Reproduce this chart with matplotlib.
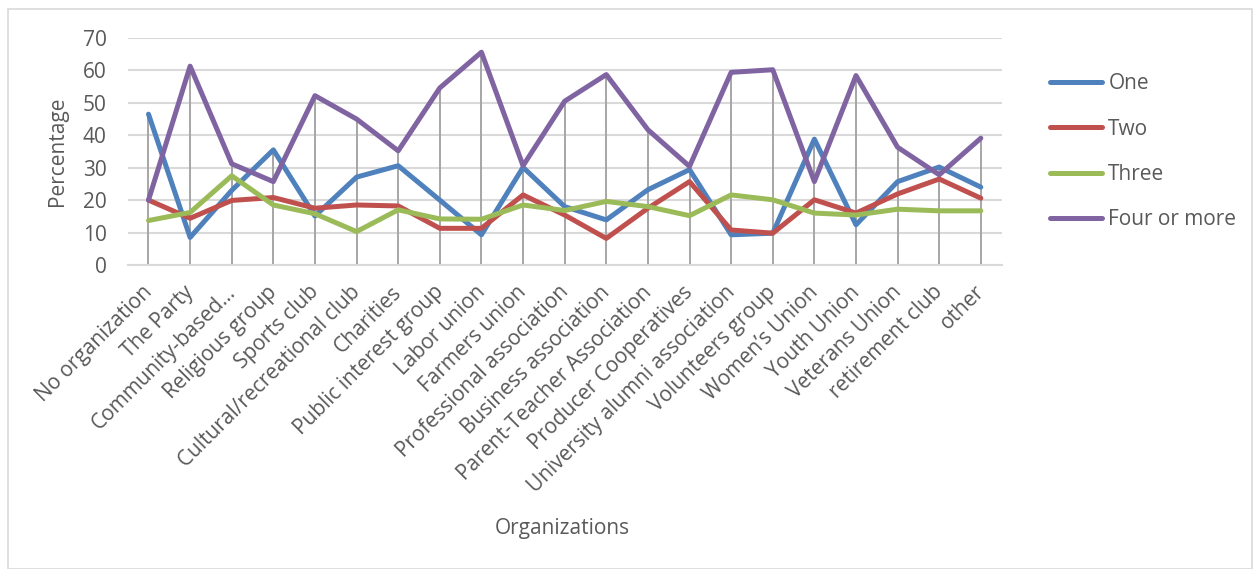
import numpy as np
import matplotlib
matplotlib.use('Agg')
import matplotlib.pyplot as plt
from matplotlib.transforms import ScaledTranslation

plt.rcParams['font.family'] = ['Open Sans', 'DejaVu Sans']

organizations = ['No organization', 'The Party', 'Community-based...', 'Religious group',
                 'Sports club', 'Cultural/recreational club', 'Charities',
                 'Public interest group', 'Labor union', 'Farmers union',
                 'Professional association', 'Business association',
                 'Parent-Teacher Association', 'Producer Cooperatives',
                 'University alumni association', 'Volunteers group', 'Women\u2019s Union',
                 'Youth Union', 'Veterans Union', 'retirement club', 'other']

one = [46.5, 8.5, 23.0, 35.5, 15.1, 27.1, 30.6, 20.0, 9.3, 30.1, 18.0,
       13.9, 23.2, 29.4, 9.3, 9.8, 38.8, 12.4, 25.7, 30.2, 24.0]
two = [20.0, 14.4, 19.9, 20.8, 17.5, 18.5, 18.2, 11.3, 11.3, 21.6, 15.4,
       8.2, 17.5, 25.7, 10.8, 9.8, 20.1, 16.0, 21.9, 26.5, 20.6]
three = [13.7, 16.2, 27.5, 18.5, 15.8, 10.3, 17.0, 14.2, 14.1, 18.5, 16.8,
         19.6, 18.0, 15.2, 21.6, 20.1, 16.0, 15.4, 17.2, 16.7, 16.7]
four_plus = [20.0, 61.3, 31.2, 25.7, 52.2, 45.0, 35.2, 54.6, 65.6, 30.6, 50.5,
             58.7, 41.7, 30.4, 59.4, 60.2, 25.7, 58.4, 36.3, 27.8, 39.1]

series = [('One', one, '#4F81BD'), ('Two', two, '#C0504D'),
          ('Three', three, '#9BBB59'), ('Four or more', four_plus, '#8064A2')]

txt = '#595959'
fig = plt.figure(figsize=(12.53, 5.69), dpi=100)
ax = fig.add_axes([0.1019, 0.5343, 0.6975, 0.399])

x = np.arange(len(organizations))
top = np.max(np.array([one, two, three, four_plus]), axis=0)

# drop lines
ax.vlines(x, 0, top, color='#A6A6A6', lw=1.4, zorder=2)

for name, vals, c in series:
    ax.plot(x, vals, color=c, lw=3.6, label=name, zorder=3, solid_joinstyle='round',
            solid_capstyle='round')

ax.set_xlim(-0.5, len(organizations) - 0.5)
ax.set_ylim(0, 70)
ax.set_yticks(range(0, 71, 10))
ax.yaxis.grid(True, color='#D9D9D9', lw=1.5)
ax.set_axisbelow(True)
for s in ['top', 'right', 'left']:
    ax.spines[s].set_visible(False)
ax.spines['bottom'].set_color('#D9D9D9')
ax.spines['bottom'].set_linewidth(1.5)
ax.tick_params(axis='both', length=0, colors=txt, labelsize=15)
ax.tick_params(axis='y', pad=15)
ax.set_xticks(x)
ax.set_xticklabels(organizations, rotation=45, ha='right', va='top',
                   rotation_mode='anchor', fontsize=15)
ax.tick_params(axis='x', pad=12)
shift = ScaledTranslation(-7 / 100, 0, fig.dpi_scale_trans)
for lab in ax.get_xticklabels():
    lab.set_transform(lab.get_transform() + shift)

ax.set_ylabel('Percentage', color=txt, fontsize=15)
ax.yaxis.set_label_coords(-0.068, 0.5)
fig.text(0.449, 0.071, 'Organizations', color=txt, fontsize=15, ha='center', va='center')

fig.legend(loc='center left', bbox_to_anchor=(0.823, 0.733), frameon=False,
           fontsize=15, labelcolor=txt, handlelength=2.5, labelspacing=1.17,
           handletextpad=0.3)

# chart border
fig.add_artist(plt.Rectangle((0.006, 0.0), 0.993, 0.985, transform=fig.transFigure,
                             fill=False, ec='#D9D9D9', lw=1.2))

fig.savefig('out.png', dpi=100)
